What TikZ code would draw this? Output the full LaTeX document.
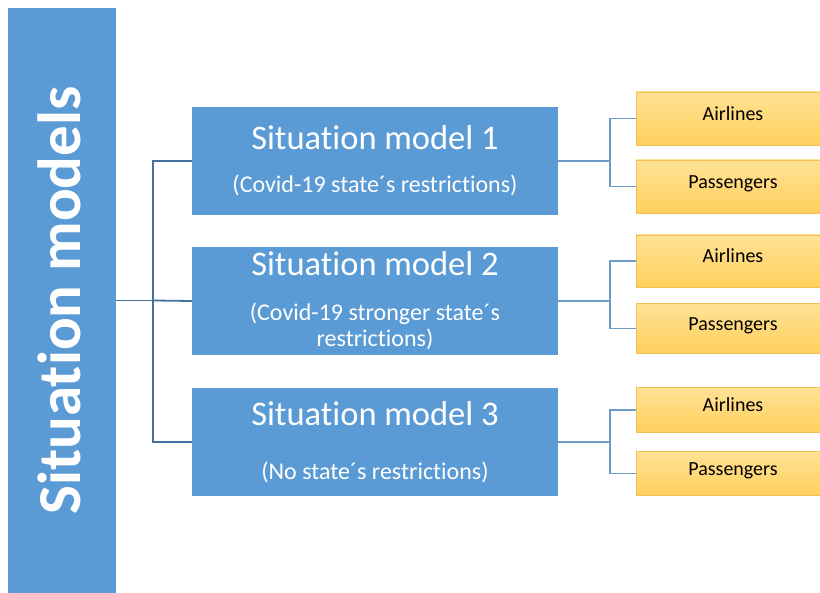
\documentclass[tikz,border=0pt]{standalone}
\usepackage{fontspec}
\setmainfont[Ligatures=NoCommon]{Carlito}
\usepackage{tikz}
\usetikzlibrary{positioning}
\definecolor{modelblue}{RGB}{91,155,213}
\definecolor{treeblue}{RGB}{65,113,156}
\definecolor{branchblue}{RGB}{110,155,197}
\definecolor{goldtop}{RGB}{255,226,150}
\definecolor{goldbot}{RGB}{255,208,92}
\definecolor{goldedge}{RGB}{240,192,85}

\begin{document}
\begin{tikzpicture}[x=1pt, y=-1pt,
    bar/.style={rectangle, fill=modelblue, minimum width=108pt, minimum height=585pt, inner sep=0pt},
    bartext/.style={rotate=90, text=white, inner sep=0pt, font=\bfseries\fontsize{61}{64}\selectfont},
    model/.style={rectangle, fill=modelblue, text=white, minimum width=366pt, minimum height=108pt, align=center, inner sep=0pt, font=\fontsize{24}{26}\selectfont},
    actor/.style={rectangle, draw=goldedge, top color=goldtop, bottom color=goldbot, minimum width=194pt, inner sep=0pt, text height=14pt, text depth=10pt, font=\fontsize{20}{22}\selectfont},
    tree/.style={draw=treeblue, line width=1.8pt},
    branch/.style={draw=branchblue, line width=1.2pt}
]
\useasboundingbox (0,0) rectangle (820,593);

\node[bar] (bar) at (62,300.5) {};
\node[bartext] (bartitle) at ([xshift=-3pt]bar.center) {Situation models};

\node[model] (sm1) at (375,161) {{\fontsize{34.5}{36}\selectfont Situation model 1}\\[17pt](Covid-19 state´s restrictions)};
\node[model] (sm2) at (375,301) {{\fontsize{34.5}{36}\selectfont Situation model 2}\\[19pt](Covid-19 stronger state´s\\restrictions)};
\node[model] (sm3) at (375,442) {{\fontsize{34.5}{36}\selectfont Situation model 3}\\[28pt](No state´s restrictions)};

\node[actor, minimum height=53pt] (air1) at (733,118.5) {Airlines};
\node[actor, minimum height=53pt] (pas1) at (733,186.5) {Passengers};
\node[actor, minimum height=52pt] (air2) at (733,261) {Airlines};
\node[actor, minimum height=50pt] (pas2) at (733,328.5) {Passengers};
\node[actor, minimum height=45pt] (air3) at (733,410) {Airlines};
\node[actor, minimum height=44pt] (pas3) at (733,473.5) {Passengers};

% left tree
\coordinate (trunk) at (153,300.5);
\draw[tree] (bar.east) -- (trunk);
\draw[tree] (trunk) |- (sm1.west);
\draw[tree] (trunk) -- (sm2.west);
\draw[tree] (trunk) |- (sm3.west);

% right forks
\coordinate (fork1) at (610,161);
\coordinate (fork2) at (610,301);
\coordinate (fork3) at (610,442);
\draw[branch] (sm1.east) -- (fork1);
\draw[branch] (fork1) |- (air1.west);
\draw[branch] (fork1) |- (pas1.west);
\draw[branch] (sm2.east) -- (fork2);
\draw[branch] (fork2) |- (air2.west);
\draw[branch] (fork2) |- (pas2.west);
\draw[branch] (sm3.east) -- (fork3);
\draw[branch] (fork3) |- (air3.west);
\draw[branch] (fork3) |- (pas3.west);

\end{tikzpicture}
\end{document}
